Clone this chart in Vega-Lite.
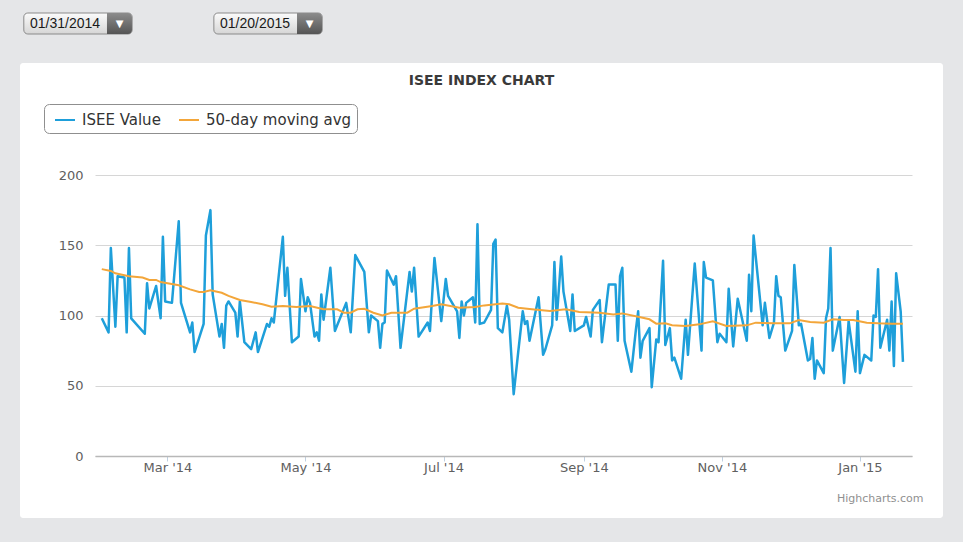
{
  "$schema": "https://vega.github.io/schema/vega-lite/v6.json",
  "background": "#e5e6e8",
  "padding": {"left": 20, "top": 12, "right": 20, "bottom": 25},
  "spacing": 29,
  "bounds": "flush",
  "config": {"view": {"stroke": null}, "font": "DejaVu Sans"},
  "datasets": {
    "pickers": [{"label": "01/31/2014"}, {"label": "01/20/2015"}],
    "isee": [
      {"date": "2014-01-31", "value": 98}, {"date": "2014-02-03", "value": 88}, {"date": "2014-02-04", "value": 148},
      {"date": "2014-02-06", "value": 92}, {"date": "2014-02-07", "value": 128}, {"date": "2014-02-10", "value": 127},
      {"date": "2014-02-11", "value": 88}, {"date": "2014-02-12", "value": 148}, {"date": "2014-02-13", "value": 98},
      {"date": "2014-02-19", "value": 87}, {"date": "2014-02-20", "value": 123}, {"date": "2014-02-21", "value": 105},
      {"date": "2014-02-24", "value": 121}, {"date": "2014-02-26", "value": 98}, {"date": "2014-02-27", "value": 156},
      {"date": "2014-02-28", "value": 110}, {"date": "2014-03-03", "value": 109}, {"date": "2014-03-06", "value": 167},
      {"date": "2014-03-07", "value": 109}, {"date": "2014-03-11", "value": 88}, {"date": "2014-03-12", "value": 95},
      {"date": "2014-03-13", "value": 74}, {"date": "2014-03-17", "value": 94}, {"date": "2014-03-18", "value": 157},
      {"date": "2014-03-20", "value": 175}, {"date": "2014-03-21", "value": 115}, {"date": "2014-03-24", "value": 85},
      {"date": "2014-03-25", "value": 94}, {"date": "2014-03-26", "value": 77}, {"date": "2014-03-27", "value": 107},
      {"date": "2014-03-28", "value": 110}, {"date": "2014-03-31", "value": 102}, {"date": "2014-04-01", "value": 85},
      {"date": "2014-04-02", "value": 110}, {"date": "2014-04-04", "value": 81}, {"date": "2014-04-07", "value": 76},
      {"date": "2014-04-09", "value": 88}, {"date": "2014-04-10", "value": 74}, {"date": "2014-04-14", "value": 94},
      {"date": "2014-04-15", "value": 92}, {"date": "2014-04-16", "value": 98}, {"date": "2014-04-17", "value": 95},
      {"date": "2014-04-21", "value": 156}, {"date": "2014-04-22", "value": 114}, {"date": "2014-04-23", "value": 134},
      {"date": "2014-04-25", "value": 81}, {"date": "2014-04-28", "value": 85}, {"date": "2014-04-29", "value": 126},
      {"date": "2014-05-01", "value": 103}, {"date": "2014-05-02", "value": 113}, {"date": "2014-05-03", "value": 109},
      {"date": "2014-05-05", "value": 85}, {"date": "2014-05-06", "value": 88}, {"date": "2014-05-07", "value": 82},
      {"date": "2014-05-08", "value": 115}, {"date": "2014-05-09", "value": 97}, {"date": "2014-05-12", "value": 134},
      {"date": "2014-05-14", "value": 89}, {"date": "2014-05-19", "value": 109}, {"date": "2014-05-21", "value": 88},
      {"date": "2014-05-23", "value": 143}, {"date": "2014-05-27", "value": 131}, {"date": "2014-05-29", "value": 88},
      {"date": "2014-05-30", "value": 100}, {"date": "2014-06-02", "value": 96}, {"date": "2014-06-03", "value": 77},
      {"date": "2014-06-04", "value": 94}, {"date": "2014-06-05", "value": 95}, {"date": "2014-06-06", "value": 132},
      {"date": "2014-06-09", "value": 122}, {"date": "2014-06-10", "value": 128}, {"date": "2014-06-12", "value": 77},
      {"date": "2014-06-16", "value": 131}, {"date": "2014-06-17", "value": 117}, {"date": "2014-06-18", "value": 134},
      {"date": "2014-06-20", "value": 85}, {"date": "2014-06-24", "value": 95}, {"date": "2014-06-25", "value": 89},
      {"date": "2014-06-27", "value": 141}, {"date": "2014-06-30", "value": 96}, {"date": "2014-07-02", "value": 126},
      {"date": "2014-07-03", "value": 114}, {"date": "2014-07-07", "value": 103}, {"date": "2014-07-08", "value": 84},
      {"date": "2014-07-09", "value": 110}, {"date": "2014-07-10", "value": 100}, {"date": "2014-07-11", "value": 109},
      {"date": "2014-07-14", "value": 113}, {"date": "2014-07-15", "value": 95}, {"date": "2014-07-16", "value": 165},
      {"date": "2014-07-17", "value": 94}, {"date": "2014-07-19", "value": 95}, {"date": "2014-07-22", "value": 104},
      {"date": "2014-07-23", "value": 151}, {"date": "2014-07-24", "value": 154}, {"date": "2014-07-25", "value": 91},
      {"date": "2014-07-27", "value": 88}, {"date": "2014-07-29", "value": 107}, {"date": "2014-07-30", "value": 97},
      {"date": "2014-08-01", "value": 44}, {"date": "2014-08-03", "value": 74}, {"date": "2014-08-05", "value": 103},
      {"date": "2014-08-06", "value": 94}, {"date": "2014-08-07", "value": 96}, {"date": "2014-08-08", "value": 82},
      {"date": "2014-08-12", "value": 113}, {"date": "2014-08-14", "value": 72}, {"date": "2014-08-15", "value": 76},
      {"date": "2014-08-18", "value": 93}, {"date": "2014-08-19", "value": 138}, {"date": "2014-08-20", "value": 97},
      {"date": "2014-08-22", "value": 142}, {"date": "2014-08-23", "value": 117}, {"date": "2014-08-26", "value": 89},
      {"date": "2014-08-27", "value": 115}, {"date": "2014-08-28", "value": 89}, {"date": "2014-09-01", "value": 93},
      {"date": "2014-09-02", "value": 99}, {"date": "2014-09-04", "value": 85}, {"date": "2014-09-05", "value": 104},
      {"date": "2014-09-08", "value": 111}, {"date": "2014-09-09", "value": 81}, {"date": "2014-09-12", "value": 122},
      {"date": "2014-09-15", "value": 122}, {"date": "2014-09-16", "value": 82}, {"date": "2014-09-17", "value": 128},
      {"date": "2014-09-18", "value": 134}, {"date": "2014-09-19", "value": 82}, {"date": "2014-09-22", "value": 60},
      {"date": "2014-09-24", "value": 90}, {"date": "2014-09-25", "value": 103}, {"date": "2014-09-26", "value": 70},
      {"date": "2014-09-27", "value": 82}, {"date": "2014-09-30", "value": 91}, {"date": "2014-10-01", "value": 49},
      {"date": "2014-10-03", "value": 83}, {"date": "2014-10-04", "value": 81}, {"date": "2014-10-06", "value": 139},
      {"date": "2014-10-07", "value": 79}, {"date": "2014-10-09", "value": 91}, {"date": "2014-10-10", "value": 68},
      {"date": "2014-10-11", "value": 70}, {"date": "2014-10-14", "value": 55}, {"date": "2014-10-16", "value": 97},
      {"date": "2014-10-17", "value": 72}, {"date": "2014-10-20", "value": 137}, {"date": "2014-10-23", "value": 75},
      {"date": "2014-10-24", "value": 138}, {"date": "2014-10-25", "value": 127}, {"date": "2014-10-28", "value": 125},
      {"date": "2014-10-30", "value": 81}, {"date": "2014-10-31", "value": 87}, {"date": "2014-11-03", "value": 81},
      {"date": "2014-11-04", "value": 119}, {"date": "2014-11-06", "value": 78}, {"date": "2014-11-08", "value": 112},
      {"date": "2014-11-12", "value": 82}, {"date": "2014-11-13", "value": 129}, {"date": "2014-11-14", "value": 103},
      {"date": "2014-11-15", "value": 157}, {"date": "2014-11-19", "value": 93}, {"date": "2014-11-20", "value": 109},
      {"date": "2014-11-22", "value": 84}, {"date": "2014-11-24", "value": 95}, {"date": "2014-11-25", "value": 128},
      {"date": "2014-11-26", "value": 114}, {"date": "2014-11-27", "value": 113}, {"date": "2014-11-29", "value": 75},
      {"date": "2014-12-02", "value": 89}, {"date": "2014-12-03", "value": 136}, {"date": "2014-12-05", "value": 93},
      {"date": "2014-12-06", "value": 94}, {"date": "2014-12-09", "value": 68}, {"date": "2014-12-10", "value": 69},
      {"date": "2014-12-11", "value": 84}, {"date": "2014-12-12", "value": 55}, {"date": "2014-12-13", "value": 68},
      {"date": "2014-12-16", "value": 59}, {"date": "2014-12-17", "value": 98}, {"date": "2014-12-18", "value": 105},
      {"date": "2014-12-19", "value": 148}, {"date": "2014-12-20", "value": 75}, {"date": "2014-12-23", "value": 99},
      {"date": "2014-12-25", "value": 52}, {"date": "2014-12-27", "value": 96}, {"date": "2014-12-30", "value": 60},
      {"date": "2014-12-31", "value": 103}, {"date": "2015-01-01", "value": 59}, {"date": "2015-01-03", "value": 72},
      {"date": "2015-01-06", "value": 68}, {"date": "2015-01-07", "value": 100}, {"date": "2015-01-08", "value": 99},
      {"date": "2015-01-09", "value": 133}, {"date": "2015-01-10", "value": 77}, {"date": "2015-01-13", "value": 97},
      {"date": "2015-01-14", "value": 75}, {"date": "2015-01-15", "value": 110}, {"date": "2015-01-16", "value": 64},
      {"date": "2015-01-17", "value": 130}, {"date": "2015-01-19", "value": 103}, {"date": "2015-01-20", "value": 67}
    ],
    "ma": [
      {"date": "2014-01-31", "value": 133}, {"date": "2014-02-04", "value": 131.7}, {"date": "2014-02-06", "value": 130},
      {"date": "2014-02-12", "value": 128}, {"date": "2014-02-18", "value": 127}, {"date": "2014-02-21", "value": 125.3},
      {"date": "2014-02-24", "value": 125.3}, {"date": "2014-02-26", "value": 123.8}, {"date": "2014-03-06", "value": 121.5},
      {"date": "2014-03-11", "value": 118.6}, {"date": "2014-03-15", "value": 116.7}, {"date": "2014-03-17", "value": 116.7},
      {"date": "2014-03-20", "value": 118}, {"date": "2014-03-25", "value": 116.2}, {"date": "2014-03-28", "value": 114},
      {"date": "2014-04-02", "value": 111}, {"date": "2014-04-07", "value": 109.6}, {"date": "2014-04-12", "value": 108},
      {"date": "2014-04-16", "value": 106.3}, {"date": "2014-04-21", "value": 106.8}, {"date": "2014-04-27", "value": 106},
      {"date": "2014-05-03", "value": 106.8}, {"date": "2014-05-09", "value": 104.4}, {"date": "2014-05-15", "value": 104.4},
      {"date": "2014-05-18", "value": 102}, {"date": "2014-05-21", "value": 102}, {"date": "2014-05-24", "value": 104.4},
      {"date": "2014-05-27", "value": 104.8}, {"date": "2014-05-31", "value": 102}, {"date": "2014-06-04", "value": 100},
      {"date": "2014-06-08", "value": 102}, {"date": "2014-06-15", "value": 102}, {"date": "2014-06-18", "value": 104.8},
      {"date": "2014-06-26", "value": 106.8}, {"date": "2014-06-30", "value": 108}, {"date": "2014-07-08", "value": 105.5},
      {"date": "2014-07-15", "value": 106}, {"date": "2014-07-19", "value": 107.2}, {"date": "2014-07-27", "value": 108.6},
      {"date": "2014-07-30", "value": 108}, {"date": "2014-08-03", "value": 105.5}, {"date": "2014-08-09", "value": 104.4},
      {"date": "2014-08-17", "value": 103.2}, {"date": "2014-08-24", "value": 104.4}, {"date": "2014-08-30", "value": 102.5},
      {"date": "2014-09-08", "value": 102}, {"date": "2014-09-14", "value": 100.8}, {"date": "2014-09-18", "value": 101.5},
      {"date": "2014-09-25", "value": 99.1}, {"date": "2014-09-30", "value": 97.3}, {"date": "2014-10-03", "value": 94.2},
      {"date": "2014-10-07", "value": 94.4}, {"date": "2014-10-10", "value": 93}, {"date": "2014-10-16", "value": 92.5},
      {"date": "2014-10-22", "value": 93.7}, {"date": "2014-10-28", "value": 95.9}, {"date": "2014-11-03", "value": 92.5},
      {"date": "2014-11-12", "value": 93}, {"date": "2014-11-16", "value": 94.9}, {"date": "2014-11-24", "value": 94.4},
      {"date": "2014-12-01", "value": 94.4}, {"date": "2014-12-05", "value": 96.8}, {"date": "2014-12-10", "value": 95.4},
      {"date": "2014-12-16", "value": 94.9}, {"date": "2014-12-20", "value": 97.3}, {"date": "2014-12-25", "value": 96.8},
      {"date": "2014-12-29", "value": 96.8}, {"date": "2015-01-04", "value": 94.9}, {"date": "2015-01-09", "value": 94.4},
      {"date": "2015-01-15", "value": 94.2}, {"date": "2015-01-20", "value": 94.2}
    ]
  },
  "vconcat": [
    {
      "width": 306,
      "height": 21,
      "data": {"name": "pickers"},
      "encoding": {
        "x": {"field": "label", "type": "nominal", "sort": null, "axis": null,
              "scale": {"paddingInner": 0.43, "paddingOuter": 0.02}}
      },
      "layer": [
        {"mark": {"type": "bar", "cornerRadius": 4, "stroke": "#8a8a8a", "strokeWidth": 1,
                  "fill": {"gradient": "linear", "x1": 0, "y1": 0, "x2": 0, "y2": 1,
                           "stops": [{"offset": 0, "color": "#fbfbfb"}, {"offset": 1, "color": "#d6d6d6"}]}}},
        {"mark": {"type": "bar", "width": 25, "xOffset": 41.5, "cornerRadiusTopRight": 4, "cornerRadiusBottomRight": 4,
                  "fill": {"gradient": "linear", "x1": 0, "y1": 0, "x2": 0, "y2": 1,
                           "stops": [{"offset": 0, "color": "#8c8c8c"}, {"offset": 1, "color": "#555555"}]}}},
        {"mark": {"type": "text", "align": "left", "dx": -48, "font": "Liberation Sans", "fontSize": 14, "color": "#1a1a1a"},
         "encoding": {"text": {"field": "label"}}},
        {"mark": {"type": "text", "text": "▼", "dx": 41.5, "fontSize": 10, "color": "white"}}
      ]
    },
    {
      "width": 923,
      "height": 455,
      "view": {"fill": "white", "stroke": null, "cornerRadius": 3},
      "title": {"text": "ISEE INDEX CHART", "offset": -25, "fontSize": 14, "font": "DejaVu Sans",
                "fontWeight": "bold", "color": "#3a3a3a", "anchor": "middle"},
      "encoding": {
        "x": {"field": "date", "type": "temporal",
              "scale": {"type": "utc",
                        "domain": [{"year": 2014, "month": 1, "date": 28, "utc": true}, {"year": 2015, "month": 1, "date": 24, "utc": true}],
                        "range": [75, 892]},
              "axis": {"orient": "bottom", "offset": -62,
                       "values": [{"year": 2014, "month": 3, "date": 1, "utc": true}, {"year": 2014, "month": 5, "date": 1, "utc": true},
                                  {"year": 2014, "month": 7, "date": 1, "utc": true}, {"year": 2014, "month": 9, "date": 1, "utc": true},
                                  {"year": 2014, "month": 11, "date": 1, "utc": true}, {"year": 2015, "month": 1, "date": 1, "utc": true}],
                       "format": "%b '%y", "grid": false,
                       "domainColor": "#b8b8b8", "domainWidth": 1.5, "tickColor": "#c0d0e0", "tickSize": 5,
                       "labelPadding": 0, "labelFontSize": 13, "labelFont": "DejaVu Sans", "labelColor": "#606060",
                       "labelFlush": false, "labelOverlap": false,
                       "title": "Highcharts.com", "titleX": 903, "titleY": 42, "titleAlign": "right",
                       "titleBaseline": "middle", "titleFontSize": 11, "titleFontWeight": "normal",
                       "titleColor": "#909090", "titleFont": "DejaVu Sans"}},
        "y": {"field": "value", "type": "quantitative",
              "scale": {"domain": [0, 200], "range": [393, 112], "nice": false, "zero": false},
              "axis": {"orient": "left", "offset": -71, "values": [0, 50, 100, 150, 200], "domain": false, "ticks": false,
                       "labelPadding": 8, "grid": true, "gridColor": "#d6d6d6", "gridWidth": 1,
                       "labelFontSize": 13, "labelFont": "DejaVu Sans", "labelColor": "#606060", "title": null}}
      },
      "layer": [
        {"data": {"name": "isee"},
         "mark": {"type": "line", "strokeWidth": 2.5, "strokeJoin": "round"},
         "encoding": {"color": {"datum": "ISEE Value", "type": "nominal",
                                "scale": {"domain": ["ISEE Value", "50-day moving avg"], "range": ["#1e9fda", "#f3a63a"]},
                                "legend": {"orient": "none", "legendX": 24, "legendY": 91, "direction": "horizontal",
                                           "title": null, "fillColor": "white", "strokeColor": "#8f8f8f", "cornerRadius": 5,
                                           "padding": 5, "symbolType": "stroke", "symbolStrokeWidth": 2, "symbolSize": 400,
                                           "symbolOffset": 5, "labelFontSize": 15, "labelFont": "DejaVu Sans",
                                           "labelColor": "#333333", "labelOffset": 6, "columnPadding": 12}}}},
        {"data": {"name": "ma"},
         "mark": {"type": "line", "strokeWidth": 2},
         "encoding": {"color": {"datum": "50-day moving avg", "type": "nominal"}}}
      ]
    }
  ]
}
